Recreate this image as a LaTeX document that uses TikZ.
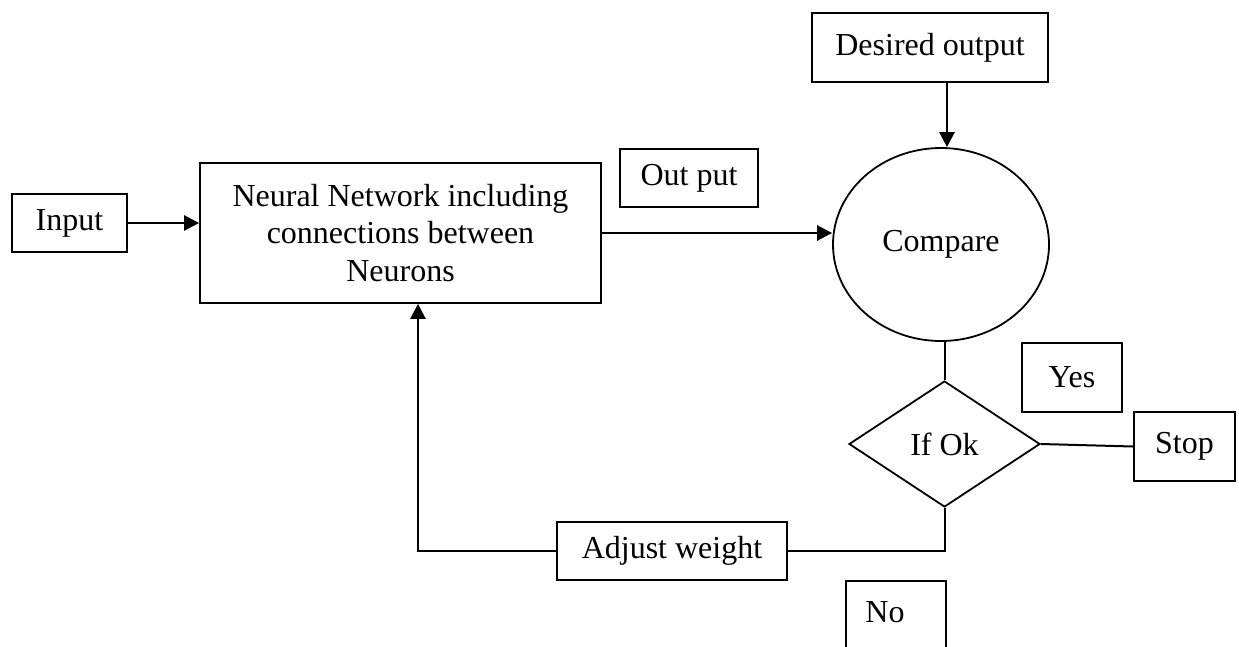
\documentclass[tikz,border=0pt]{standalone}
\usepackage{fontspec}
\setmainfont{Liberation Serif}
\usetikzlibrary{arrows.meta,shapes.geometric,calc}
\begin{document}
\begin{tikzpicture}[x=1pt,y=-1pt,
  every node/.style={font=\fontsize{32}{37.5}\selectfont, inner sep=0pt},
  box/.style={draw, line width=1.8pt, rectangle},
  conn/.style={line width=2pt},
  arr/.style={line width=2.6pt, -{Triangle[length=15pt,width=15pt]}}]
\clip (0,0) rectangle (1239,646);
\fill[white] (0,0) rectangle (1239,646);

% main flow
\node[box, minimum width=115pt, minimum height=58pt] (input) at (69.5,223) {Input};
\node[box, minimum width=401pt, minimum height=140pt, align=center] (nn) at (400.5,233)
  {Neural Network including\\connections between\\Neurons};
\node[box, minimum width=138pt, minimum height=58pt] (outp) at (689,178) {Out put};
\node[box, minimum width=236pt, minimum height=69pt] (desired) at (930,47.5) {Desired output};
\node[draw, line width=1.8pt, ellipse, minimum width=216pt, minimum height=193pt] (compare) at (941,244.5) {Compare};
\node[draw, line width=1.8pt, diamond, minimum width=191pt, minimum height=126pt] (ifok) at (944.5,444) {If Ok};
\node[box, minimum width=100pt, minimum height=69pt] (yes) at (1072,377.5) {Yes};
\node[box, minimum width=101pt, minimum height=69pt] (stop) at (1184.5,446.5) {Stop};
\node[box, minimum width=230pt, minimum height=58pt] (adjust) at (672,551) {Adjust weight};

% "No" label box, running off the lower edge
\node[box, minimum width=100pt, minimum height=100pt, anchor=north west] (nobox) at (845,580) {};
\node (notext) at ($(nobox.north west)+(40,32)$) {No};

% connectors
\draw[arr] (input.east) -- (input.east -| nn.west);
\draw[arr] (nn.east) -- (nn.east -| compare.west);
\draw[arr] ([xshift=6pt]compare.north |- desired.south) -- ([xshift=6pt]compare.north);
\draw[conn] (ifok.north |- compare.south) -- (ifok.north);
\draw[conn] (ifok.east) -- (stop.west);
\draw[conn] (ifok.south) |- (adjust.east);
\draw[arr] (adjust.west) -| ([xshift=17.5pt]nn.south);
\end{tikzpicture}
\end{document}
